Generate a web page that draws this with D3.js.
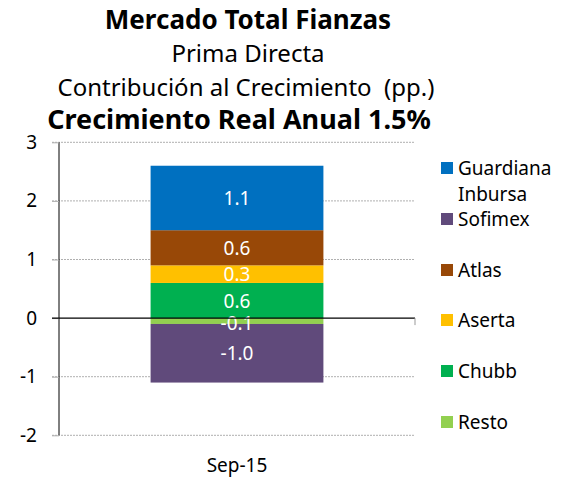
<!DOCTYPE html>
<html>
<head>
<meta charset="utf-8">
<script src="https://cdn.jsdelivr.net/npm/d3@7"></script>
<style>
  body { margin: 0; background: #fff; }
  text { font-family: "Noto Sans", "Open Sans", sans-serif; }
</style>
</head>
<body>
<div id="chart"></div>
<script>
const period = ["Sep-15"];
const companies = ["Guardiana Inbursa", "Sofimex", "Atlas", "Aserta", "Chubb", "Resto"];
const values = [1.1, -1.0, 0.6, 0.3, 0.6, -0.1];
const colors = ["#0070C0", "#604A7B", "#984807", "#FFC000", "#00B050", "#92D050"];
const stackOrder = ["Resto", "Chubb", "Aserta", "Atlas", "Guardiana Inbursa", "Sofimex"];
const yTicks = [-2, -1, 0, 1, 2, 3];

const width = 573, height = 479;
const svg = d3.select("#chart").append("svg")
    .attr("width", width)
    .attr("height", height);

// titles
const titles = [
    { t: "Mercado Total Fianzas", x: 248, y: 29, bold: true, size: 26 },
    { t: "Prima Directa", x: 248, y: 62, bold: false, size: 24 },
    { t: "Contribución al Crecimiento\u00a0 (pp.)", x: 246, y: 96, bold: false, size: 24 },
    { t: "Crecimiento Real Anual 1.5%", x: 239, y: 129, bold: true, size: 27 }
];
svg.selectAll(".title").data(titles).enter().append("text")
    .attr("x", d => d.x)
    .attr("y", d => d.y)
    .attr("text-anchor", "middle")
    .attr("font-size", d => d.size + "px")
    .attr("font-weight", d => d.bold ? "bold" : "normal")
    .attr("fill", "#000")
    .text(d => d.t);

const x0 = 59, x1 = 415;
const y = d3.scaleLinear().domain([-2, 3]).range([435.3, 142.3]);
const x = d3.scaleBand().domain(period).range([x0, x1]).paddingInner(0.5).paddingOuter(0.265);
const fmt = v => d3.format(".1f")(v).replace("\u2212", "-");

// gridlines
svg.append("g").selectAll("line").data(yTicks.filter(d => d !== 0)).enter().append("line")
    .attr("x1", 52).attr("x2", x1)
    .attr("y1", d => y(d)).attr("y2", d => y(d))
    .attr("stroke", "#b0b0b0")
    .attr("stroke-dasharray", "2,1");

// y axis
const yAxis = svg.append("g")
    .attr("transform", `translate(${x0},0)`)
    .call(d3.axisLeft(y).tickValues(yTicks).tickSize(7).tickFormat(d => String(d)));
yAxis.select(".domain").attr("stroke", "#000").attr("d", `M0,${y(-2)}V${y(3)}`);
yAxis.selectAll(".tick line").attr("stroke", "#b0b0b0");
yAxis.selectAll(".tick text")
    .attr("font-size", "19px")
    .attr("fill", "#000")
    .attr("x", -22)
    .style("font-family", "'Noto Sans', sans-serif");

// stack positions
let pos = 0, neg = 0;
const segs = companies.map((c, i) => ({ name: c, v: values[i], color: colors[i] }));
const placed = stackOrder.map(n => {
    const s = segs.find(d => d.name === n);
    let a, b;
    if (s.v >= 0) { a = pos; b = pos + s.v; pos = b; }
    else { a = neg; b = neg + s.v; neg = b; }
    return Object.assign({}, s, { a, b });
});

const bar = svg.append("g");
bar.selectAll("rect").data(placed).enter().append("rect")
    .attr("x", x(period[0]))
    .attr("width", x.bandwidth())
    .attr("y", d => y(Math.max(d.a, d.b)))
    .attr("height", d => Math.abs(y(d.a) - y(d.b)))
    .attr("fill", d => d.color);

// zero line
svg.append("line")
    .attr("x1", 52).attr("x2", x1)
    .attr("y1", y(0)).attr("y2", y(0))
    .attr("stroke", "#000").attr("stroke-width", 1.2);
svg.append("line")
    .attr("x1", x1).attr("x2", x1)
    .attr("y1", y(0)).attr("y2", y(0) + 7)
    .attr("stroke", "#999");

// labels
bar.selectAll(".lbl").data(placed).enter().append("text")
    .attr("x", x(period[0]) + x.bandwidth() / 2)
    .attr("y", d => d.name === "Resto" ? y(d.b) + 6 : y((d.a + d.b) / 2) + 7)
    .attr("text-anchor", "middle")
    .attr("font-size", "19px")
    .attr("fill", "#fff")
    .text(d => fmt(d.v));

// x label
svg.append("text")
    .attr("x", x(period[0]) + x.bandwidth() / 2)
    .attr("y", 472)
    .attr("text-anchor", "middle")
    .attr("font-size", "19px")
    .text(period[0]);

// legend
const legendY = [168, 219, 270, 320, 371, 422];
const lg = svg.append("g").selectAll("g").data(segs).enter().append("g")
    .attr("transform", (d, i) => `translate(441,${legendY[i]})`);
lg.append("rect")
    .attr("x", 0).attr("y", -6)
    .attr("width", 12).attr("height", 12)
    .attr("fill", d => d.color);
lg.append("text")
    .attr("x", 17)
    .attr("y", 7)
    .attr("font-size", "19px")
    .attr("fill", "#000")
    .each(function(d) {
        const words = d.name.split(" ");
        d3.select(this).selectAll("tspan").data(words).enter().append("tspan")
            .attr("x", 17)
            .attr("dy", (w, j) => j === 0 ? 0 : "1.35em")
            .text(w => w);
    });
</script>
</body>
</html>
